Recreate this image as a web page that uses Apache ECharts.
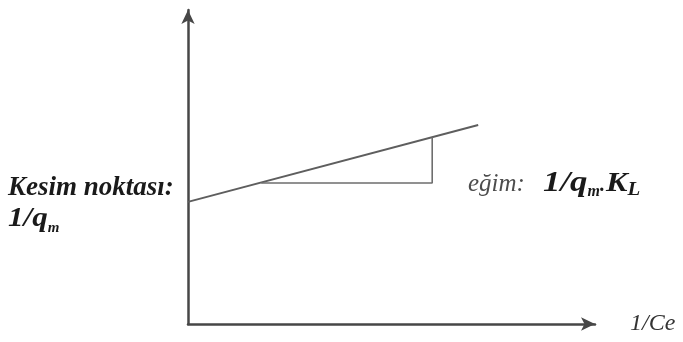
<!DOCTYPE html>
<html>
<head>
<meta charset="utf-8">
<script src="https://cdn.jsdelivr.net/npm/echarts@6/dist/echarts.min.js"></script>
<style>
  html, body { margin: 0; padding: 0; background: #fff; }
  #chart { width: 683px; height: 342px; }
</style>
</head>
<body>
<div id="chart"></div>
<script>
// Langmuir linear form sketch: 1/qe vs 1/Ce
const lineX = [0, 7.13];
const lineY = [3.89, 6.34];
// slope triangle (horizontal leg, then vertical leg up to the line)
const triX = [1.8, 6.0, 6.0];
const triY = [4.49, 4.49, 5.95];

const xName = '1/Ce';
const interceptLabel = 'Kesim noktası:';
const slopeLabel = 'eğim:';

const pairs = (xs, ys) => xs.map((v, i) => [v, ys[i]]);

const serif = '"Liberation Serif", "DejaVu Serif", serif';
const measure = document.createElement('canvas').getContext('2d');

function fontOf(size, bold, italic) {
  return `${italic === false ? '' : 'italic '}${bold ? 'bold ' : ''}${size}px ${serif}`;
}

// lays out text runs one after another from x, each with own baseline shift
function runs(x, baseline, parts) {
  const out = [];
  let cx = x;
  parts.forEach(p => {
    const font = fontOf(p.size, p.bold, p.italic);
    measure.font = font;
    const sx = p.sx ?? 1;
    out.push({
      type: 'text',
      x: cx,
      y: baseline + (p.dy ?? 0) - p.size * 0.34,
      scaleX: sx,
      style: {
        text: p.t,
        fill: p.color ?? '#1a1a1a',
        font: font,
        align: 'left',
        verticalAlign: 'middle'
      }
    });
    cx += measure.measureText(p.t).width * sx + (p.gap ?? 0);
  });
  return out;
}

const chart = echarts.init(document.getElementById('chart'));
chart.setOption({
  animation: false,
  grid: { left: 188, right: 88, top: 10, bottom: 18 },
  xAxis: {
    type: 'value',
    min: 0,
    max: 10,
    axisLine: {
      onZero: false,
      symbol: ['none', 'arrow'],
      symbolSize: [10, 14],
      lineStyle: { color: '#474747', width: 2.5 }
    },
    axisTick: { show: false },
    axisLabel: { show: false },
    splitLine: { show: false }
  },
  yAxis: {
    type: 'value',
    min: 0,
    max: 10,
    axisLine: {
      show: true,
      onZero: false,
      symbol: ['none', 'arrow'],
      symbolSize: [10, 14],
      lineStyle: { color: '#474747', width: 2.5 }
    },
    axisTick: { show: false },
    axisLabel: { show: false },
    splitLine: { show: false }
  },
  series: [
    {
      type: 'line',
      data: pairs(lineX, lineY),
      showSymbol: false,
      lineStyle: { color: '#5e5e5e', width: 2 }
    },
    {
      type: 'line',
      data: pairs(triX, triY),
      showSymbol: false,
      lineStyle: { color: '#6e6e6e', width: 1.6 }
    }
  ],
  graphic: [].concat(
    runs(8, 197, [{ t: interceptLabel, size: 27, bold: true }]),
    runs(8, 228, [
      { t: '1/q', size: 27, bold: true, sx: 1.15 },
      { t: 'm', size: 15, bold: true, dy: 5 }
    ]),
    runs(468, 193, [{ t: slopeLabel, size: 25, color: '#4d4d4d' }]),
    runs(543, 193, [
      { t: '1/q', size: 29, bold: true, sx: 1.2 },
      { t: 'm', size: 16, bold: true, dy: 4 },
      { t: '.', size: 20, bold: true, gap: 1 },
      { t: 'K', size: 28, bold: true, sx: 1.15 },
      { t: 'L', size: 19, bold: true, dy: 4, sx: 1.1 }
    ]),
    runs(630, 332, [{ t: xName, size: 24, color: '#333' }])
  )
});
</script>
</body>
</html>
